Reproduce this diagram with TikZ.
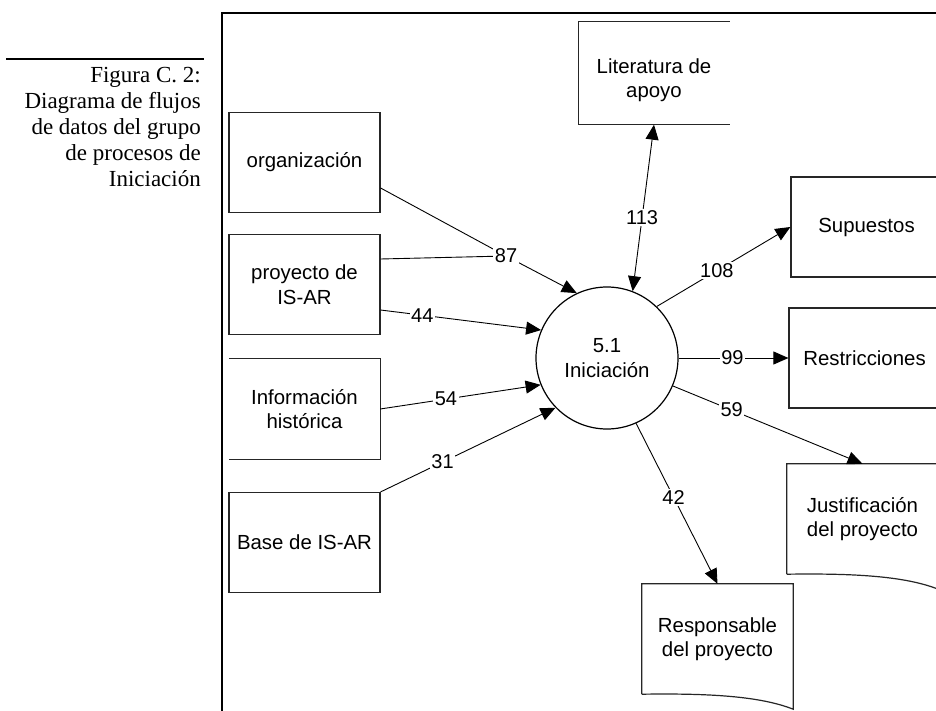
\documentclass[tikz,border=0pt]{standalone}
\usepackage{fontspec}
\setmainfont{Liberation Sans}
\newfontfamily\capfont{Liberation Serif}
\usetikzlibrary{arrows.meta,calc}

\tikzset{
  boxtext/.style={minimum width=151pt, minimum height=100pt, inner sep=0pt,
    align=center, font=\fontsize{20.4}{24.5}\selectfont},
  box/.style={boxtext, draw=black!85, line width=1.2pt},
  outline/.style={draw=black!85, line width=1.2pt},
  wire/.style={line width=0.9pt},
  flow/.style={wire, -{Triangle[length=15pt,width=13pt]}},
  both/.style={wire, {Triangle[length=15pt,width=13pt]}-{Triangle[length=15pt,width=13pt]}},
  lbl/.style={fill=white, inner sep=1.5pt, font=\fontsize{20}{20}\selectfont},
}

\begin{document}
\begin{tikzpicture}[x=1pt,y=-1pt]
\useasboundingbox (0,0) rectangle (936,711);
\clip (0,0) rectangle (936,711);

% caption beside the frame
\draw[line width=1.5pt] (6,59) -- (204,59);
\node[anchor=north east, align=right, inner sep=0pt,
      font=\capfont\fontsize{23}{26}\selectfont] (cap) at (201,67)
  {Figura C. 2:\\Diagrama de flujos\\de datos del grupo\\de procesos de\\Iniciación};

% frame
\draw[line width=2pt] (222,720) -- (222,13) -- (945,13);

% external entities and stores
\node[boxtext, minimum height=103pt] (lit) at (654,80) {Literatura de\\apoyo};
\path[outline] ([yshift=7pt]lit.north east) -- ([yshift=7pt]lit.north west)
  -- ([yshift=7pt]lit.south west) -- ([yshift=7pt]lit.south east);

\node[box] (org) at (304.5,162.5) {organización};
\node[box] (proy) at (304.5,284.5) {proyecto de\\IS-AR};
\node[boxtext] (inf) at (304.5,409) {Información\\histórica};
\path[outline] (inf.north west) -- (inf.north east) -- (inf.south east) -- (inf.south west);
\node[box] (base) at (304.5,542.5) {Base de IS-AR};

\node[box] (sup) at (866.5,227) {Supuestos};
\node[box] (res) at (864.5,358) {Restricciones};

\node[boxtext, minimum height=110pt] (jus) at (862.5,519) {Justificación\\del proyecto};
\path[outline] (jus.south west) -- (jus.north west) -- (jus.north east)
  -- ($(jus.south east)+(0,15)$)
  .. controls ($(jus.south east)+(-33,2)$) and ($(jus.south west)+(68,-1)$) .. (jus.south west);

\node[boxtext, minimum height=110pt] (resp) at (717.5,639) {Responsable\\del proyecto};
\path[outline] (resp.south west) -- (resp.north west) -- (resp.north east)
  -- ($(resp.south east)+(0,15)$)
  .. controls ($(resp.south east)+(-33,2)$) and ($(resp.south west)+(68,-1)$) .. (resp.south west);

% process
\node[circle, draw=black, line width=1.2pt, minimum size=142pt, inner sep=0pt,
      align=center, font=\fontsize{20.4}{24.5}\selectfont] (proc) at (607,358) {5.1\\Iniciación};

% flows into the process
\coordinate (j87) at (506,256);
\draw[wire] ([yshift=-25.5pt]org.east) -- (j87);
\draw[wire] ([yshift=25.5pt]proy.east) -- (j87);
\draw[flow] (j87) -- (proc.115);
\node[lbl] (n87) at (j87) {87};

\draw[flow] ([yshift=-25.5pt]proy.east) -- (proc.157) node[lbl, pos=0.26] {44};
\draw[flow] (inf.east) -- (proc.202) node[lbl, pos=0.41] {54};
\draw[flow] (base.north east) -- (proc.224) node[lbl, pos=0.354] {31};

% flows out of the process
\draw[both] ([yshift=7pt]lit.south) -- (proc.69) node[lbl, pos=0.56] {113};
\draw[flow] (proc.46) -- (sup.west) node[lbl, pos=0.45] {108};
\draw[flow] (proc.0) -- (res.west) node[lbl, pos=0.49] {99};
\draw[flow] (proc.-23) -- (jus.north) node[lbl, pos=0.31] {59};
\draw[flow] (proc.-66) -- (resp.north) node[lbl, pos=0.46] {42};
\end{tikzpicture}
\end{document}
